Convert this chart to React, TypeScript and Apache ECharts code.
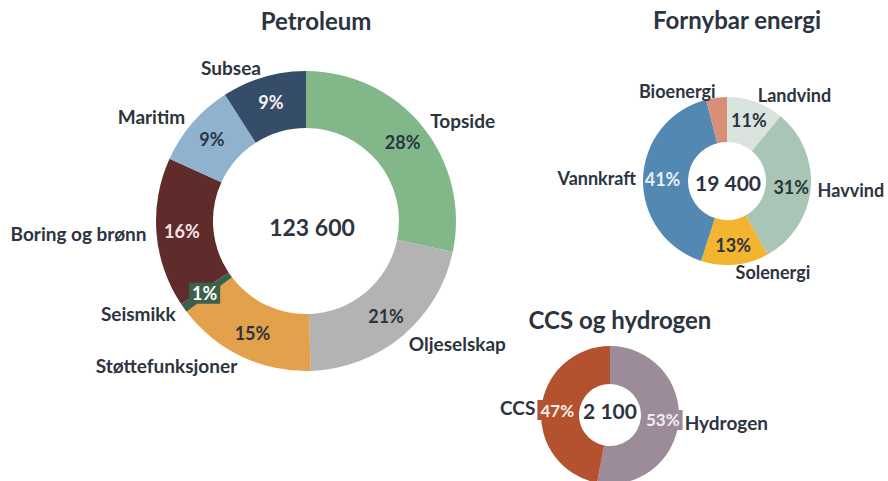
import React, { useEffect, useRef } from "react";
import * as echarts from "echarts";

// ---- Data ----
const petroleumNames = ["Topside", "Oljeselskap", "Støttefunksjoner", "Seismikk", "Boring og brønn", "Maritim", "Subsea"];
const petroleumShares = [28, 21, 15, 1, 16, 9, 9];
const petroleumTotal = "123 600";

const fornybarNames = ["Landvind", "Havvind", "Solenergi", "Vannkraft", "Bioenergi"];
const fornybarShares = [11, 31, 13, 41, 4];
const fornybarTotal = "19 400";

const ccsNames = ["Hydrogen", "CCS"];
const ccsShares = [53, 47];
const ccsTotal = "2 100";

const titles = ["Petroleum", "Fornybar energi", "CCS og hydrogen"];

// ---- Styles ----
const FONT = "Lato, 'Open Sans', sans-serif";
const DARK = "#2c3440";

const petroleumColors = ["#82b78a", "#b3b3b3", "#e2a14a", "#3d604b", "#602b2b", "#8fb3cf", "#354d69"];
const petroleumLabelColors = [DARK, DARK, DARK, "#ffffff", "#f4e4e4", DARK, "#f2f2f2"];
const petroleumLabelBg = ["", "", "", "#3d604b", "", "", ""];

const fornybarColors = ["#d8e4dd", "#a9c5b5", "#f3b52f", "#5288b1", "#d98e78"];
const fornybarLabelColors = [DARK, DARK, DARK, "#e8eff6", DARK];
const fornybarLabelShow = [true, true, true, true, false];

const ccsColors = ["#9c8c9a", "#b4512f"];
const ccsLabelColors = ["#f3eef3", "#fbeee8"];

type PieCfg = {
  names: string[];
  values: number[];
  colors: string[];
  labelColors: string[];
  labelBg?: string[];
  labelShow?: boolean[];
  center: [number, number];
  radius: [number, number];
  lineLen: number;
  pctSize: number;
  nameSize: number;
};

function buildSeries(cfg: PieCfg) {
  const inner = {
    type: "pie",
    center: cfg.center,
    radius: cfg.radius,
    startAngle: 90,
    clockwise: true,
    avoidLabelOverlap: false,
    silent: true,
    label: {
      show: true,
      position: "inside",
      formatter: "{c}%",
      fontFamily: FONT,
      fontWeight: "bold",
      fontSize: cfg.pctSize,
    },
    labelLine: { show: false },
    data: cfg.names.map((n, i) => ({
      name: n,
      value: cfg.values[i],
      itemStyle: { color: cfg.colors[i] },
      label: {
        show: cfg.labelShow ? cfg.labelShow[i] : true,
        color: cfg.labelColors[i],
        backgroundColor: cfg.labelBg && cfg.labelBg[i] ? cfg.labelBg[i] : "transparent",
        padding: cfg.labelBg && cfg.labelBg[i] ? [2, 3, 1, 3] : 0,
      },
    })),
  };
  const outer = {
    type: "pie",
    center: cfg.center,
    radius: cfg.radius,
    startAngle: 90,
    clockwise: true,
    avoidLabelOverlap: false,
    silent: true,
    itemStyle: { color: "rgba(0,0,0,0)" },
    label: {
      show: true,
      position: "outside",
      formatter: "{b}",
      color: DARK,
      fontFamily: FONT,
      fontWeight: "bold",
      fontSize: cfg.nameSize,
      distanceToLabelLine: 0,
    },
    labelLine: { show: false, length: cfg.lineLen, length2: 0 },
    data: cfg.names.map((n, i) => ({ name: n, value: cfg.values[i] })),
  };
  return [inner, outer];
}

export default function App() {
  const ref = useRef<HTMLDivElement>(null);
  useEffect(() => {
    document.body.style.margin = "0";
    const chart = echarts.init(ref.current!, null, { renderer: "svg" });
    const series = [
      ...buildSeries({
        names: petroleumNames,
        values: petroleumShares,
        colors: petroleumColors,
        labelColors: petroleumLabelColors,
        labelBg: petroleumLabelBg,
        center: [306, 221],
        radius: [93, 150],
        lineLen: 10,
        pctSize: 18,
        nameSize: 19,
      }),
      ...buildSeries({
        names: fornybarNames,
        values: fornybarShares,
        colors: fornybarColors,
        labelColors: fornybarLabelColors,
        labelShow: fornybarLabelShow,
        center: [727, 181],
        radius: [39, 84],
        lineLen: 7,
        pctSize: 18,
        nameSize: 18,
      }),
      ...buildSeries({
        names: ccsNames,
        values: ccsShares,
        colors: ccsColors,
        labelColors: ccsLabelColors,
        labelBg: ccsColors,
        center: [610, 415],
        radius: [31, 69],
        lineLen: 6,
        pctSize: 17,
        nameSize: 19,
      }),
    ];
    const titleText = (text: string, x: number, y: number, size: number) => ({
      type: "text",
      x,
      y,
      style: {
        text,
        fill: DARK,
        font: `bold ${size}px ${FONT}`,
        textAlign: "center",
        textVerticalAlign: "middle",
      },
    });
    chart.setOption({
      animation: false,
      backgroundColor: "#ffffff",
      series,
      graphic: [
        titleText(titles[0], 316, 20, 24),
        titleText(titles[1], 737, 19, 24),
        titleText(titles[2], 620, 319, 24),
        titleText(petroleumTotal, 312, 227, 23),
        titleText(fornybarTotal, 728, 182, 21),
        titleText(ccsTotal, 610, 410, 21),
      ],
    });
    return () => chart.dispose();
  }, []);
  return <div ref={ref} style={{ width: 888, height: 481 }} />;
}
